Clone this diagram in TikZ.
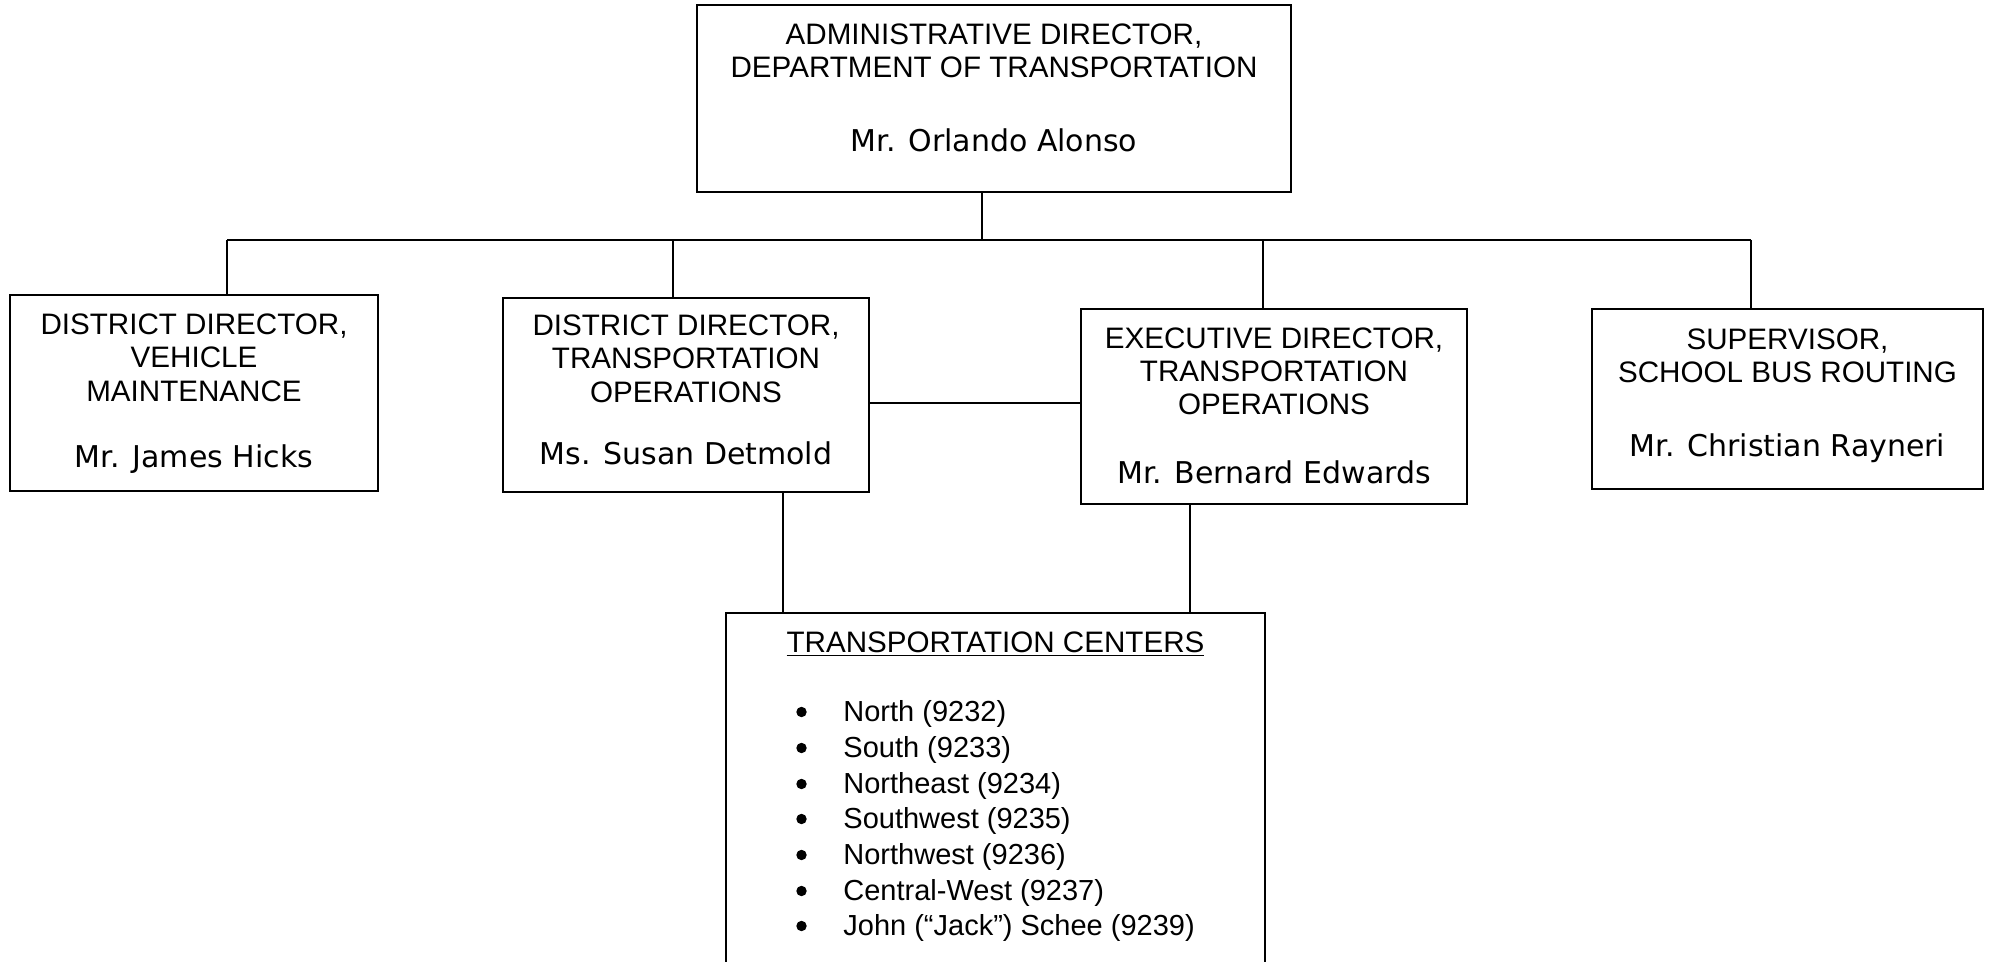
\documentclass[tikz,border=0pt]{standalone}
\usepackage{fontspec}
\setmainfont{Liberation Sans}
\newfontfamily\namefont{DejaVu Sans}
\begin{document}
\begin{tikzpicture}[x=0.5pt,y=-0.5pt,
  box/.style={draw,line width=0.9pt,inner sep=0pt,fill=white},
  conn/.style={line width=0.75pt},
  ttl/.style={anchor=base,inner sep=0pt,font=\fontsize{14.8}{16}\selectfont},
  nm/.style={anchor=base,inner sep=0pt,font=\namefont\fontsize{15}{17}\selectfont},
  itm/.style={anchor=base west,inner sep=0pt,font=\fontsize{14.5}{16}\selectfont},
  bul/.style={circle,fill=black,inner sep=0pt,minimum size=5.2pt}]
\useasboundingbox (0,0) rectangle (1991,962);
\clip (0,0) rectangle (1991,962);
\fill[white] (0,0) rectangle (1991,962);

% boxes
\node[box,minimum width=297pt,minimum height=93.5pt] (top) at (994,98.5) {};
\node[box,minimum width=184pt,minimum height=98pt] (b1) at (194,393) {};
\node[box,minimum width=183pt,minimum height=97pt] (b2) at (686,395) {};
\node[box,minimum width=193pt,minimum height=97.5pt] (b3) at (1274,406.5) {};
\node[box,minimum width=195.5pt,minimum height=90pt] (b4) at (1787.5,399) {};
\node[box,minimum width=269.5pt,minimum height=200pt] (b5) at (995.5,813) {};

% connectors
\coordinate (j0) at (982,240);
\coordinate (bl) at (227,240);
\coordinate (br) at (1751,240);
\coordinate (j2) at (673,240);
\coordinate (j3) at (1263,240);
\coordinate (mid) at (0,403);
\coordinate (d2) at (783,0);
\coordinate (d3) at (1190,0);
\draw[conn] (j0 |- top.south) -- (j0);
\draw[conn] (bl) -- (br);
\draw[conn] (bl) -- (bl |- b1.north);
\draw[conn] (j2) -- (j2 |- b2.north);
\draw[conn] (j3) -- (j3 |- b3.north);
\draw[conn] (br) -- (br |- b4.north);
\draw[conn] (b2.east |- mid) -- (b3.west |- mid);
\draw[conn] (d2 |- b2.south) -- (d2 |- b5.north);
\draw[conn] (d3 |- b3.south) -- (d3 |- b5.north);

% top box text
\node[ttl] (t0a) at (994,45) {ADMINISTRATIVE DIRECTOR,};
\node[ttl] (t0b) at (994,78) {DEPARTMENT OF TRANSPORTATION};
\node[nm]  (t0n) at (994,152) {Mr. Orlando Alonso};

% box 1
\node[ttl] (t1a) at (194,335) {DISTRICT DIRECTOR,};
\node[ttl] (t1b) at (194,368) {VEHICLE};
\node[ttl] (t1c) at (194,401) {MAINTENANCE};
\node[nm]  (t1n) at (194,467) {Mr. James Hicks};

% box 2
\node[ttl] (t2a) at (686,336) {DISTRICT DIRECTOR,};
\node[ttl] (t2b) at (686,369) {TRANSPORTATION};
\node[ttl] (t2c) at (686,402) {OPERATIONS};
\node[nm]  (t2n) at (686,465) {Ms. Susan Detmold};

% box 3
\node[ttl] (t3a) at (1274,349) {EXECUTIVE DIRECTOR,};
\node[ttl] (t3b) at (1274,382) {TRANSPORTATION};
\node[ttl] (t3c) at (1274,415) {OPERATIONS};
\node[nm]  (t3n) at (1274,483) {Mr. Bernard Edwards};

% box 4
\node[ttl] (t4a) at (1787.5,350) {SUPERVISOR,};
\node[ttl] (t4b) at (1787.5,383) {SCHOOL BUS ROUTING};
\node[nm]  (t4n) at (1787.5,457) {Mr. Christian Rayneri};

% box 5
\node[ttl] (t5) at (995.5,652) {\underline{TRANSPORTATION CENTERS}};
\foreach \yy/\txt/\nn in {721/North (9232)/1, 757/South (9233)/2, 793/Northeast (9234)/3,
  828/Southwest (9235)/4, 864/Northwest (9236)/5, 900/Central-West (9237)/6,
  935/John (“Jack”) Schee (9239)/7} {
  \node[bul] (bu\nn) at (801.5,\yy-9) {};
  \node[itm] (it\nn) at (843,\yy) {\txt};
}
\end{tikzpicture}
\end{document}
